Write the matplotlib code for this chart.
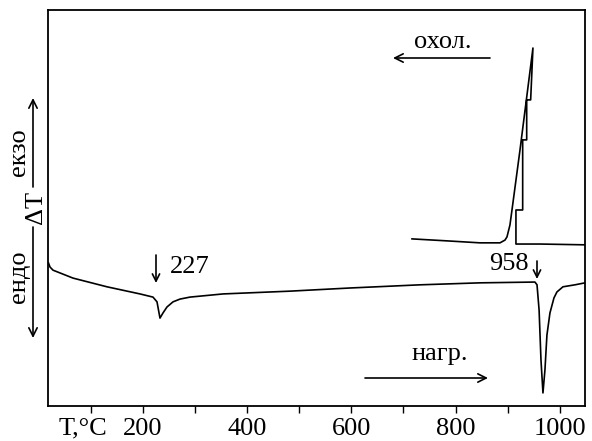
import numpy as np
import matplotlib.pyplot as plt

# heating curve (temperature, deg C) and delta T signal (arbitrary units)
heat_T = [19.4, 22.2, 28.0, 66.3, 131.5, 194.8, 219.7, 227.4, 233.1, 238.9, 246.5,
          258.1, 271.5, 290.6, 354.0, 482.0, 597.4, 731.6, 846.6, 952.0, 956.0,
          960.0, 963.6, 967.4, 971.2, 975.0, 980.8, 988.5, 994.2, 1005.7, 1028.7, 1048.0]
heat_dT = [36.1, 35.1, 34.3, 32.3, 30.1, 28.3, 27.5, 26.3, 22.2, 23.5, 25.0,
           26.3, 27.0, 27.5, 28.3, 29.0, 29.8, 30.6, 31.1, 31.3, 30.6,
           24.2, 11.6, 3.3, 9.1, 17.9, 23.5, 27.3, 28.8, 30.1, 30.6, 31.1]

# cooling curve (drawn as one path, step part included)
cool_T = [716.3, 783.4, 846.6, 885.0, 894.6, 898.4, 904.1, 908.0, 923.3, 948.2,
          943.8, 936.2, 936.2, 928.5, 928.5, 915.6, 915.6, 961.7, 1048.0]
cool_dT = [42.2, 41.7, 41.2, 41.2, 41.9, 42.7, 45.7, 49.5, 64.6, 90.4,
           77.3, 77.3, 67.2, 67.2, 49.5, 49.5, 40.9, 40.9, 40.7]

major_ticks = [200, 400, 600, 800, 1000]
minor_ticks = [100, 300, 500, 700, 900]

plt.rcParams['font.family'] = ['Liberation Serif', 'DejaVu Serif']

W, H = 592, 441
fig = plt.figure(figsize=(W / 100, H / 100), dpi=100)
ax = fig.add_axes([48 / W, 1 - 406 / H, 537 / W, 396 / H])

ax.plot(heat_T, heat_dT, color='black', lw=1.2)
ax.plot(cool_T, cool_dT, color='black', lw=1.2)

ax.set_xlim(18.4, 1048)
ax.set_ylim(0, 100)
ax.set_xticks(major_ticks)
ax.set_xticks(minor_ticks, minor=True)
ax.set_yticks([])
ax.tick_params(axis='x', which='both', direction='out', length=5, width=1.0,
               labelsize=19, pad=3.5)
for sp in ax.spines.values():
    sp.set_linewidth(1.3)


def fp(x, y):
    # picture pixels (top-left origin) -> figure pixels
    return (x, H - y)


def arrow(x0, y0, x1, y1, ms=15):
    ax.annotate('', xy=fp(x1, y1), xytext=fp(x0, y0), xycoords='figure pixels',
                arrowprops=dict(arrowstyle='->', lw=1.2, color='black',
                                mutation_scale=ms, shrinkA=0, shrinkB=0))


# cooling / heating directions
fig.text(443 / W, 1 - 42 / H, 'охол.', fontsize=19, ha='center', va='center')
arrow(490, 58, 393, 58)
fig.text(440 / W, 1 - 354 / H, 'нагр.', fontsize=19, ha='center', va='center')
arrow(365, 378, 488, 378)

# peak labels
arrow(156, 255, 156, 283, ms=13)
fig.text(170 / W, 1 - 267 / H, '227', fontsize=19, ha='left', va='center')
arrow(537, 261, 537, 279, ms=13)
fig.text(529 / W, 1 - 264 / H, '958', fontsize=19, ha='right', va='center')

# axis label
fig.text(83 / W, 1 - 428 / H, 'T,°C', fontsize=19, ha='center', va='center')

# y axis: endo / delta T / exo
arrow(33, 187, 33, 98)
arrow(33, 227, 33, 338)
fig.text(36 / W, 1 - 207 / H, 'ΔT', fontsize=19, ha='center', va='center', rotation=90)
fig.text(19 / W, 1 - 152 / H, 'екзо', fontsize=19, ha='center', va='center', rotation=90)
fig.text(19 / W, 1 - 277 / H, 'ендо', fontsize=19, ha='center', va='center', rotation=90)

fig.savefig('out.png', dpi=100)
